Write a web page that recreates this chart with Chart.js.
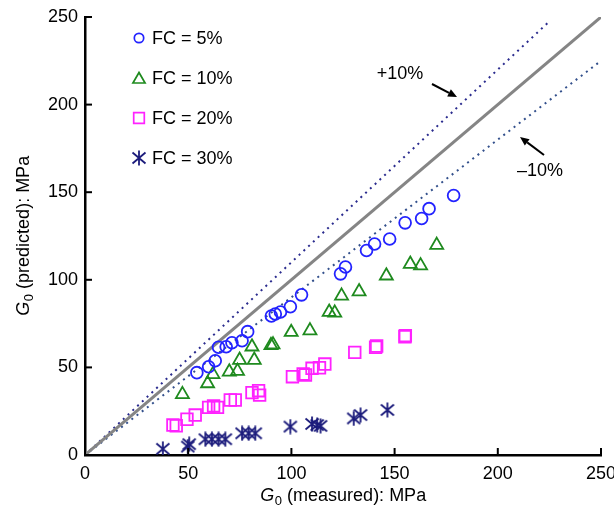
<!DOCTYPE html>
<html><head><meta charset="utf-8">
<script src="https://cdn.jsdelivr.net/npm/chart.js@4/dist/chart.umd.min.js"></script>
<style>html,body{margin:0;padding:0;background:#fff;overflow:hidden}
#wrap{position:relative;width:614px;height:518px}</style>
</head><body><div id="wrap"><canvas id="c" width="614" height="518"></canvas></div>
<script>
const FONT = '"Liberation Sans", Arial, Helvetica, sans-serif';

// ---- data ----
const seriesNames = ['FC = 5%', 'FC = 10%', 'FC = 20%', 'FC = 30%'];
const fc5X  = [54.2,59.9,63.1,64.7,68.4,71.2,76.1,78.8,90.3,92.2,94.7,99.5,104.9,123.8,126.2,136.4,140.3,147.6,155.1,163.1,166.7,178.6];
const fc5Y  = [47.0,50.4,53.8,61.5,61.8,64.1,65.2,70.4,79.3,80.5,81.6,84.6,91.4,103.4,107.3,116.7,120.4,123.3,132.5,135.0,140.6,148.1];
const fc10X = [47.2,59.4,62.0,69.9,73.9,74.9,80.9,82.0,90.1,91.1,99.9,109.0,118.3,121.0,124.3,132.8,146.0,157.6,162.6,170.4];
const fc10Y = [34.6,40.8,46.0,47.5,47.9,54.2,61.8,54.2,62.6,63.0,70.1,71.0,81.6,81.1,90.8,93.3,102.3,109.0,108.1,119.8];
const fc20X = [42.6,44.2,49.4,53.4,59.9,62.3,64.2,70.4,72.8,80.9,84.1,84.6,100.5,105.7,106.8,110.0,113.6,116.2,130.7,140.8,141.3,155.0,155.2];
const fc20Y = [17.1,16.7,20.4,22.8,27.2,28.0,27.2,31.4,31.4,35.6,36.7,34.2,44.7,46.2,45.7,49.5,49.8,51.9,58.6,61.5,62.2,67.5,68.1];
const fc30X = [37.7,49.8,50.5,58.3,61.5,64.7,68.0,76.1,79.3,82.5,99.5,110.0,112.5,114.1,130.2,133.5,146.5];
const fc30Y = [3.5,4.8,6.2,9.0,9.0,9.0,9.0,12.4,12.4,12.4,16.2,17.7,17.1,16.6,20.9,22.8,25.7];
const oneX = [0, 250],  oneY = [0, 250];
const plusX = [0, 225], plusY = [0, 247.5];
const minusX = [0, 250], minusY = [0, 225];
const xTicks = [0, 50, 100, 150, 200, 250];
const yTicks = [0, 50, 100, 150, 200, 250];
const xTitleRest = ' (measured): MPa';
const yTitleRest = ' (predicted): MPa';
const plusLabel = '+10%';
const minusLabel = '\u201310%';

const pts = (xs, ys) => xs.map((x, i) => ({x, y: ys[i]}));

const C5 = '#2323ff', C10 = '#1e8a1e', C20 = '#ff22ff', C30 = '#1c1c7c';

function makeStar(color, s) {
  const c = document.createElement('canvas');
  c.width = s; c.height = s;
  const g = c.getContext('2d');
  const m = s / 2;
  g.strokeStyle = color; g.lineWidth = 1.8;
  g.beginPath();
  g.moveTo(m, 0.5); g.lineTo(m, s - 0.5);
  g.moveTo(1.5, 2.5); g.lineTo(s - 1.5, s - 2.5);
  g.moveTo(s - 1.5, 2.5); g.lineTo(1.5, s - 2.5);
  g.stroke();
  return c;
}
const starImg = makeStar(C30, 16);

function drawMarker(g, style, x, y, r, color) {
  g.save();
  g.strokeStyle = color; g.lineWidth = 1.7;
  g.beginPath();
  if (style === 'circle') { g.arc(x, y, r, 0, Math.PI * 2); g.stroke(); }
  else if (style === 'triangle') {
    g.moveTo(x, y - r); g.lineTo(x + r * 0.866, y + r / 2); g.lineTo(x - r * 0.866, y + r / 2); g.closePath(); g.stroke();
  } else if (style === 'rect') { g.rect(x - r, y - r, 2 * r, 2 * r); g.stroke(); }
  else if (style === 'star') { g.drawImage(starImg, x - starImg.width / 2, y - starImg.height / 2); }
  g.restore();
}

function drawTitle(g, cx, cy, rest, rotate) {
  g.save();
  g.translate(cx, cy);
  if (rotate) g.rotate(-Math.PI / 2);
  g.fillStyle = '#000';
  g.textBaseline = 'alphabetic';
  const fI = 'italic 18px ' + FONT, fS = '13px ' + FONT, fR = '18px ' + FONT;
  g.font = fI; const wG = g.measureText('G').width;
  g.font = fS; const w0 = g.measureText('0').width;
  g.font = fR; const wR = g.measureText(rest).width;
  let x = -(wG + w0 + wR) / 2; const base = 6.5;
  g.font = fI; g.fillText('G', x, base); x += wG;
  g.font = fS; g.fillText('0', x + 0.5, base + 4); x += w0 + 0.5;
  g.font = fR; g.fillText(rest, x, base);
  g.restore();
}

function arrow(g, x1, y1, x2, y2) {
  g.save();
  g.strokeStyle = '#000'; g.fillStyle = '#000'; g.lineWidth = 2;
  const a = Math.atan2(y2 - y1, x2 - x1), L = 9, W = 4;
  const bx = x2 - L * Math.cos(a), by = y2 - L * Math.sin(a);
  g.beginPath(); g.moveTo(x1, y1); g.lineTo(bx, by); g.stroke();
  g.beginPath();
  g.moveTo(x2, y2);
  g.lineTo(bx + W * Math.sin(a), by - W * Math.cos(a));
  g.lineTo(bx - W * Math.sin(a), by + W * Math.cos(a));
  g.closePath(); g.fill();
  g.restore();
}

const decor = {
  id: 'decor',
  afterDraw(chart) {
    const g = chart.ctx, xs = chart.scales.x, ys = chart.scales.y, ca = chart.chartArea;
    g.save();
    g.strokeStyle = '#000'; g.lineWidth = 2;
    xTicks.forEach(v => { const px = xs.getPixelForValue(v); g.beginPath(); g.moveTo(px, ca.bottom); g.lineTo(px, ca.bottom - 7); g.stroke(); });
    yTicks.forEach(v => { const py = ys.getPixelForValue(v); g.beginPath(); g.moveTo(ca.left, py); g.lineTo(ca.left + 7, py); g.stroke(); });
    g.restore();
    drawTitle(g, (ca.left + ca.right) / 2, 494, xTitleRest, false);
    drawTitle(g, 22, (ca.top + ca.bottom) / 2, yTitleRest, true);
    const items = [
      ['circle', 4.7, C5], ['triangle', 7, C10], ['rect', 5.3, C20], ['star', 0, C30]
    ];
    const ly = [38, 78, 118, 158];
    g.save();
    g.font = '18px ' + FONT; g.fillStyle = '#000'; g.textBaseline = 'middle';
    items.forEach((it, i) => {
      drawMarker(g, it[0], 139, ly[i] + (it[0] === 'triangle' ? 1.5 : 0), it[1], it[2]);
      g.fillText(seriesNames[i], 152, ly[i] + 1);
    });
    g.textAlign = 'center';
    g.fillText(plusLabel, 400, 74);
    g.fillText(minusLabel, 540, 171);
    g.restore();
    arrow(g, 432, 84, 457, 97);
    arrow(g, 544, 155, 520, 137);
  }
};

const markerBase = {backgroundColor: 'rgba(0,0,0,0)', pointBorderWidth: 1.8, pointHoverRadius: 0, showLine: false};

new Chart(document.getElementById('c'), {
  type: 'scatter',
  data: {
    datasets: [
      Object.assign({label: seriesNames[0], data: pts(fc5X, fc5Y), pointStyle: 'circle', pointRadius: 5.9, borderColor: C5, pointBorderColor: C5}, markerBase),
      Object.assign({label: seriesNames[1], data: pts(fc10X, fc10Y), pointStyle: 'triangle', pointRadius: 7.5, borderColor: C10, pointBorderColor: C10}, markerBase),
      Object.assign({label: seriesNames[2], data: pts(fc20X, fc20Y), pointStyle: 'rect', pointRadius: 8.2, borderColor: C20, pointBorderColor: C20}, markerBase),
      Object.assign({label: seriesNames[3], data: pts(fc30X, fc30Y), pointStyle: starImg, pointRadius: 8, borderColor: C30, pointBorderColor: C30}, markerBase),
      {label: '1:1', data: pts(oneX, oneY), showLine: true, borderColor: '#858585', borderWidth: 3, pointRadius: 0, order: 5},
      {label: '+10%', data: pts(plusX, plusY), showLine: true, borderColor: '#2a2b8e', borderWidth: 2, borderDash: [2, 4.5], pointRadius: 0, order: 5},
      {label: '-10%', data: pts(minusX, minusY), showLine: true, borderColor: '#33508c', borderWidth: 2, borderDash: [2, 4.5], pointRadius: 0, order: 5}
    ]
  },
  options: {
    responsive: false, animation: false, devicePixelRatio: 1,
    layout: {padding: {top: 17, right: 13, left: 0, bottom: 0}},
    plugins: {legend: {display: false}, tooltip: {enabled: false}},
    scales: {
      x: {
        type: 'linear', min: 0, max: 250,
        afterBuildTicks: s => { s.ticks = xTicks.map(v => ({value: v})); },
        afterFit: s => { s.height = 63; s.paddingLeft = 0; s.paddingRight = 0; },
        grid: {display: false, drawTicks: false},
        border: {display: true, color: '#000', width: 2.5},
        ticks: {padding: 8, autoSkip: false, maxRotation: 0, color: '#000', font: {size: 18, family: FONT}}
      },
      y: {
        type: 'linear', min: 0, max: 250,
        afterBuildTicks: s => { s.ticks = yTicks.map(v => ({value: v})); },
        afterFit: s => { s.width = 85; s.paddingTop = 0; s.paddingBottom = 0; },
        grid: {display: false, drawTicks: false},
        border: {display: true, color: '#000', width: 2.5},
        ticks: {padding: 7, autoSkip: false, color: '#000', font: {size: 18, family: FONT}}
      }
    }
  },
  plugins: [decor]
});
</script></body></html>
